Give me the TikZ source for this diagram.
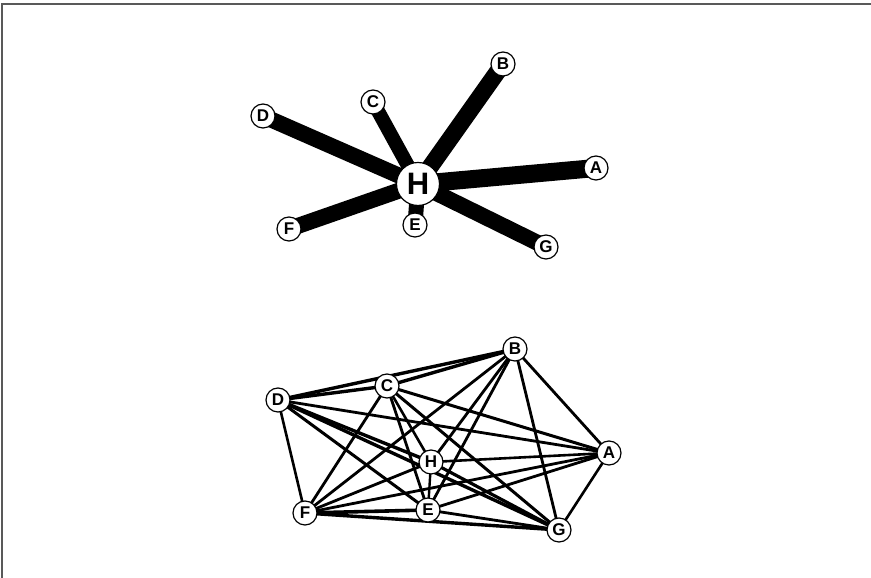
\documentclass[tikz,border=0pt]{standalone}
\usepackage{fontspec}
\setmainfont{Liberation Sans}
\begin{document}
\begin{tikzpicture}[x=1pt,y=1pt,
  vtx/.style={circle,draw=black,line width=1.2pt,fill=white,inner sep=0pt,minimum size=24pt,font=\bfseries\fontsize{17}{17}\selectfont},
  hub/.style={circle,draw=black,line width=1.2pt,fill=white,inner sep=0pt,minimum size=43pt,font=\bfseries\fontsize{31}{31}\selectfont},
  spoke/.style={draw=black,line cap=butt},
  link/.style={draw=black,line width=2.6pt},
  frame/.style={draw=gray!70!black,line width=1.5pt}]
\useasboundingbox (0,0) rectangle (871,578);
\coordinate (fl) at (2,0);
\coordinate (ft) at (2,574);
\coordinate (fr) at (871,574);
\draw[frame] (fl) -- (ft) -- (fr);
% ---- top star graph
\coordinate (tH) at (418,394);
\coordinate (tA) at (596,410);
\coordinate (tB) at (503,514);
\coordinate (tC) at (373,476);
\coordinate (tD) at (263,462);
\coordinate (tE) at (415,353);
\coordinate (tF) at (289,349);
\coordinate (tG) at (546,331);
\draw[spoke,line width=18pt] (tH) -- (tA);
\draw[spoke,line width=17pt] (tH) -- (tB);
\draw[spoke,line width=14pt] (tH) -- (tC);
\draw[spoke,line width=16pt] (tH) -- (tD);
\draw[spoke,line width=15pt] (tH) -- (tE);
\draw[spoke,line width=16pt] (tH) -- (tF);
\draw[spoke,line width=16pt] (tH) -- (tG);
\node[hub] (H1) at (tH) {H};
\node[vtx] (A1) at (tA) {A};
\node[vtx] (B1) at (tB) {B};
\node[vtx] (C1) at (tC) {C};
\node[vtx] (D1) at (tD) {D};
\node[vtx] (E1) at (tE) {E};
\node[vtx] (F1) at (tF) {F};
\node[vtx] (G1) at (tG) {G};
% ---- bottom complete graph
\coordinate (bA) at (609,125);
\coordinate (bB) at (515,229);
\coordinate (bC) at (387,192);
\coordinate (bD) at (278,178);
\coordinate (bE) at (428,68);
\coordinate (bF) at (305,65);
\coordinate (bG) at (559,48);
\coordinate (bH) at (431,116);
\foreach \u/\v/\w in {bD/bC/3.4,bD/bB/3.4,bC/bB/3.4,bD/bA/2.8,bD/bG/3.4,bD/bE/3.0,bD/bH/3.4,bD/bF/2.6,
  bC/bF/2.8,bC/bE/2.8,bC/bH/2.6,bC/bG/3.0,bC/bA/3.0,
  bB/bA/2.8,bB/bG/2.8,bB/bE/2.8,bB/bF/2.8,bB/bH/2.8,
  bA/bG/2.6,bA/bF/2.8,bA/bE/2.8,bA/bH/2.6,
  bF/bE/3.6,bF/bG/3.4,bF/bH/2.8,bE/bG/2.8,bE/bH/2.4,bH/bG/3.2}
  {\draw[link,line width=\w pt] (\u) -- (\v);}
\node[vtx] (A2) at (bA) {A};
\node[vtx] (B2) at (bB) {B};
\node[vtx] (C2) at (bC) {C};
\node[vtx] (D2) at (bD) {D};
\node[vtx] (E2) at (bE) {E};
\node[vtx] (F2) at (bF) {F};
\node[vtx] (G2) at (bG) {G};
\node[vtx] (H2) at (bH) {H};
\end{tikzpicture}
\end{document}
